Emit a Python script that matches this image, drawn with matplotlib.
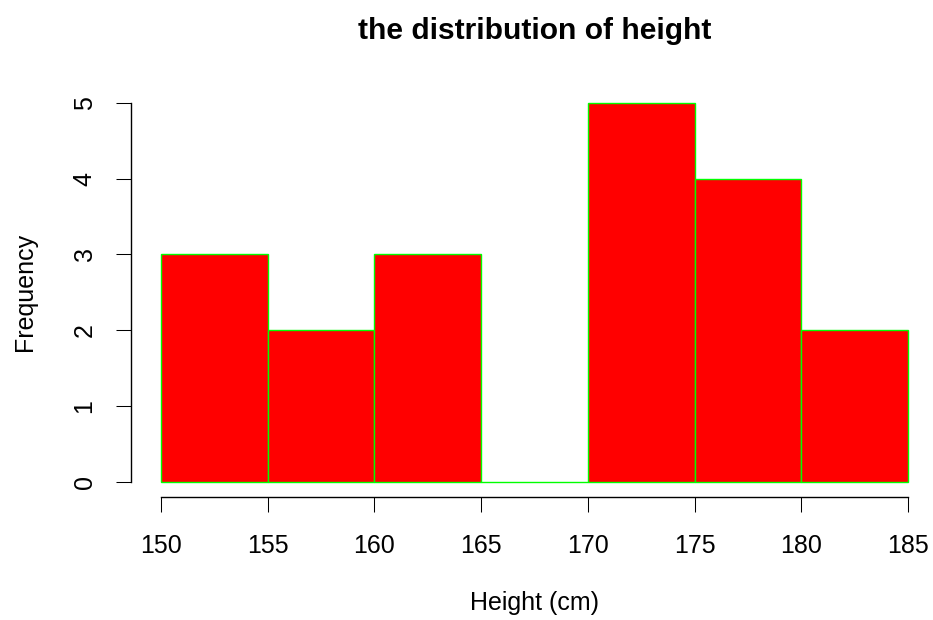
import numpy as np
import matplotlib
matplotlib.use("Agg")
import matplotlib.pyplot as plt

# histogram of heights (cm): bin edges and counts
BIN_EDGES = [150, 155, 160, 165, 170, 175, 180, 185]
COUNTS = [3, 2, 3, 0, 5, 4, 2]
X_TICKS = [150, 155, 160, 165, 170, 175, 180, 185]
Y_TICKS = [0, 1, 2, 3, 4, 5]

plt.rcParams["font.family"] = ["Liberation Sans", "DejaVu Sans"]

W, H = 933, 620
fig = plt.figure(figsize=(W / 100, H / 100), dpi=100)

# plot region placed in pixels, like R's default margins
left, right, top, bottom = 131, 938, 87.9, 496.8
ax = fig.add_axes([left / W, 1 - bottom / H, (right - left) / W, (bottom - top) / H])

edges = np.array(BIN_EDGES, dtype=float)
ax.bar(edges[:-1], COUNTS, width=np.diff(edges), align="edge",
       color="#FF0000", edgecolor="#00FF00", linewidth=1.0)

ax.set_xlim(148.6, 186.4)
ax.set_ylim(-0.2, 5.2)

for s in ["top", "right"]:
    ax.spines[s].set_visible(False)
ax.spines["left"].set_bounds(0, 5)
ax.spines["bottom"].set_bounds(150, 185)
ax.spines["left"].set_position(("outward", 0))
ax.spines["bottom"].set_position(("outward", 0))
for s in ["left", "bottom"]:
    ax.spines[s].set_linewidth(1.0)

ax.set_xticks(X_TICKS)
ax.set_yticks(Y_TICKS)
ax.tick_params(axis="both", direction="out", length=10.8, width=0.75,
               labelsize=18)
ax.tick_params(axis="x", pad=16)
ax.tick_params(axis="y", pad=14)
for lab in ax.get_yticklabels():
    lab.set_rotation(90)
    lab.set_va("center")

mid = (left + right) / 2 / W
fig.text(mid, 1 - 31 / H, "the distribution of height", ha="center",
         va="center", fontsize=21.6, fontweight="bold")
fig.text(mid, 1 - 603 / H, "Height (cm)", ha="center", va="center",
         fontsize=18)
fig.text(25 / W, 1 - (top + bottom) / 2 / H, "Frequency", ha="center",
         va="center", rotation=90, fontsize=18)

fig.savefig("out.png", dpi=100)
